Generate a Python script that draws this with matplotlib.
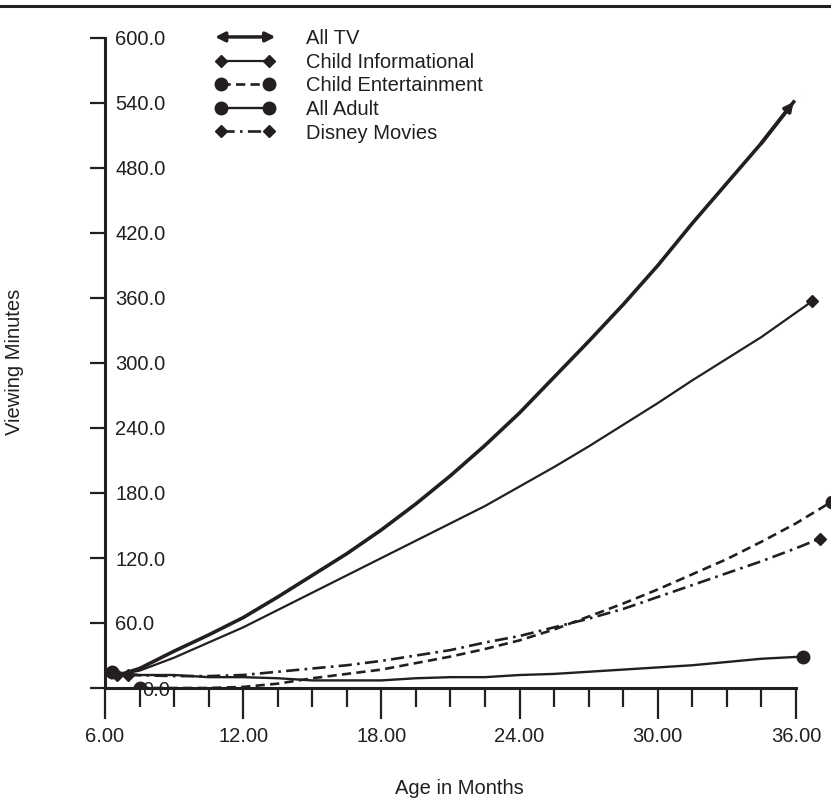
import matplotlib
matplotlib.use("Agg")
import matplotlib.pyplot as plt
import matplotlib.transforms as mtransforms
from matplotlib.lines import Line2D
from matplotlib.patches import FancyArrowPatch
from matplotlib.legend_handler import HandlerBase

plt.rcParams['font.family'] = ['Liberation Sans', 'DejaVu Sans']
plt.rcParams['font.size'] = 14.5

INK = '#231f20'

# values (minutes per day vs age in months)
months_tv = [6.3, 7.5, 9, 10.5, 12, 13.5, 15, 16.5, 18, 19.5, 21, 22.5, 24,
             25.5, 27, 28.5, 30, 31.5, 33, 34.5, 35.9]
all_tv = [10, 18, 34, 49, 65, 84, 104, 124, 146, 170, 196, 224, 254,
          287, 320, 354, 390, 429, 466, 503, 541]

months_info = [6.5, 7.5, 9, 10.5, 12, 13.5, 15, 16.5, 18, 19.5, 21, 22.5, 24,
               25.5, 27, 28.5, 30, 31.5, 33, 34.5, 36.7]
child_info = [12, 16, 28, 42, 56, 72, 88, 104, 120, 136, 152, 168, 186,
              204, 223, 243, 263, 284, 304, 324, 357]

months_ent = [7.5, 9, 10.5, 12, 13.5, 15, 16.5, 18, 19.5, 21, 22.5, 24,
              25.5, 27, 28.5, 30, 31.5, 33, 34.5, 36, 37.55]
child_ent = [0, 0, 0, 1, 4, 9, 13, 17, 23, 29, 36, 44,
             54, 66, 78, 91, 105, 119, 135, 152, 172]

months_adult = [6.3, 7.5, 9, 10.5, 12, 13.5, 15, 16.5, 18, 19.5, 21, 22.5, 24,
                25.5, 27, 28.5, 30, 31.5, 33, 34.5, 36.3]
all_adult = [15, 12, 12, 10, 10, 9, 7, 7, 7, 9, 10, 10, 12,
             13, 15, 17, 19, 21, 24, 27, 29]

months_disney = [7, 9, 10.5, 12, 13.5, 15, 16.5, 18, 19.5, 21, 22.5, 24,
                 25.5, 27, 28.5, 30, 31.5, 33, 34.5, 36, 37.05]
disney = [12, 11, 11, 12, 15, 18, 21, 25, 30, 35, 42, 48,
          56, 64, 73, 84, 95, 106, 117, 129, 138]

x_major = [6, 12, 18, 24, 30, 36]
x_labels = ['6.00', '12.00', '18.00', '24.00', '30.00', '36.00']
y_ticks = list(range(0, 601, 60))
y_labels = ['%.1f' % v for v in y_ticks]


class DoubleArrow(HandlerBase):
    def create_artists(self, legend, orig, xdescent, ydescent, width, height,
                       fontsize, trans):
        y = (height - ydescent) / 2
        a = FancyArrowPatch((-xdescent, y), (-xdescent + width, y),
                            arrowstyle='<|-|>', mutation_scale=14, lw=2.5,
                            color=INK, transform=trans, shrinkA=0, shrinkB=0)
        return [a]


fig = plt.figure(figsize=(8.31, 7.98), dpi=100)
ax = fig.add_axes([105 / 831, 110 / 798, 726 / 831, 650 / 798])

tv_line, = ax.plot(months_tv, all_tv, color=INK, lw=2.6)
ax.annotate('', xy=(months_tv[-1], all_tv[-1]), xytext=(months_tv[-2], all_tv[-2]),
            arrowprops=dict(arrowstyle='-|>', color=INK, lw=2.6,
                            mutation_scale=13, shrinkA=0, shrinkB=0))
info_line, = ax.plot(months_info, child_info, color=INK, lw=1.6, marker='D',
                     ms=6, markevery=[0, len(months_info) - 1])
ent_line, = ax.plot(months_ent, child_ent, color=INK, lw=1.9, dashes=(3.5, 2),
                    marker='o', ms=9, markevery=[0, len(months_ent) - 1])
adult_line, = ax.plot(months_adult, all_adult, color=INK, lw=1.7, marker='o',
                      ms=9, markevery=[0, len(months_adult) - 1])
disney_line, = ax.plot(months_disney, disney, color=INK, lw=1.9,
                       dashes=(5, 2, 1, 2), marker='D', ms=6,
                       markevery=[0, len(months_disney) - 1])

ax.set_xlim(6, 37.52)
ax.set_ylim(0, 600)

for s in ('top', 'right'):
    ax.spines[s].set_visible(False)
ax.spines['left'].set_bounds(0, 600)
ax.spines['bottom'].set_bounds(6, 36)
for s in ('left', 'bottom'):
    ax.spines[s].set_linewidth(2.2)
    ax.spines[s].set_color(INK)

ax.set_xticks(x_major)
ax.set_xticklabels(x_labels)
ax.set_xticks([6 + 1.5 * i for i in range(21)], minor=True)
ax.tick_params(axis='x', which='major', direction='out', length=22, width=1.6,
               color=INK, pad=6, labelcolor=INK)
ax.tick_params(axis='x', which='minor', direction='out', length=14, width=1.6,
               color=INK)

ax.set_yticks(y_ticks)
ax.set_yticklabels(y_labels)
ax.tick_params(axis='y', direction='out', length=11, width=1.6, color=INK,
               pad=-18.5, labelcolor=INK)
for lab in ax.get_yticklabels():
    lab.set_horizontalalignment('left')
# the 0.0 label sits further right in the reference
zero_lab = ax.yaxis.get_major_ticks()[0].label1
zero_lab.set_transform(zero_lab.get_transform() +
                       mtransforms.ScaledTranslation(27 / 100, 0, fig.dpi_scale_trans))

fig.text(15 / 831, 1 - 362 / 798, 'Viewing Minutes', rotation=90,
         ha='center', va='center', color=INK)
fig.text(459 / 831, 1 - 788 / 798, 'Age in Months', ha='center', va='center',
         color=INK)

fig.add_artist(Line2D([0, 1], [1 - 6 / 798, 1 - 6 / 798], color=INK, lw=2.2,
                      transform=fig.transFigure))

leg = ax.legend([tv_line, info_line, ent_line, adult_line, disney_line],
                ['All TV', 'Child Informational', 'Child Entertainment',
                 'All Adult', 'Disney Movies'],
                handler_map={tv_line: DoubleArrow()},
                loc='upper left', bbox_to_anchor=(215 / 831, 1 - 29 / 798),
                bbox_transform=fig.transFigure, frameon=False, numpoints=2,
                handlelength=3.0, handletextpad=1.5, labelspacing=0.23,
                borderpad=0, borderaxespad=0)
for t in leg.get_texts():
    t.set_color(INK)

fig.savefig('out.png', dpi=100)
